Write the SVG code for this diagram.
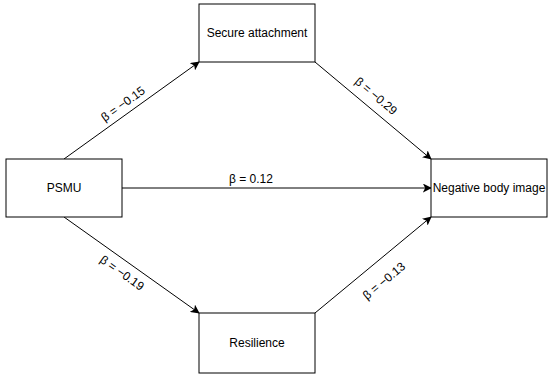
<svg xmlns="http://www.w3.org/2000/svg" width="550" height="379" viewBox="0 0 550 379">
  <defs>
    <marker id="arr" viewBox="0 0 10 10" refX="9" refY="5" markerWidth="9" markerHeight="9" markerUnits="userSpaceOnUse" orient="auto">
      <path d="M0,0 L10,5 L0,10 L2.5,5 Z" fill="#000"/>
    </marker>
    <style>
      .box { fill: #fff; stroke: #000; stroke-width: 1; }
      .lbl { font-family: "Liberation Sans", Arial, sans-serif; font-size: 12px; fill: #000; text-anchor: middle; }
      .edge { stroke: #000; stroke-width: 1; fill: none; marker-end: url(#arr); }
    </style>
  </defs>
  <rect width="550" height="379" fill="#fff"/>
  <g id="connectors">
    <line class="edge" x1="64" y1="159" x2="199" y2="62"/>
    <line class="edge" x1="315" y1="62" x2="431" y2="159"/>
    <line class="edge" x1="122" y1="188" x2="431" y2="188"/>
    <line class="edge" x1="64" y1="217" x2="199" y2="313"/>
    <line class="edge" x1="315" y1="313" x2="431" y2="217"/>
    <text class="lbl" transform="translate(123,104) rotate(-35.7)" y="4">β = −0.15</text>
    <text class="lbl" transform="translate(376,96) rotate(39.9)" y="4">β = −0.29</text>
    <text class="lbl" x="251" y="183">β = 0.12</text>
    <text class="lbl" transform="translate(122,273) rotate(35.4)" y="4">β = −0.19</text>
    <text class="lbl" transform="translate(384,281) rotate(-39.6)" y="4">β = −0.13</text>
  </g>
  <g id="secure">
    <rect class="box" x="199" y="4" width="116" height="58"/>
    <text class="lbl" x="257" y="37">Secure attachment</text>
  </g>
  <g id="psmu">
    <rect class="box" x="6" y="159" width="116" height="58"/>
    <text class="lbl" x="64" y="192">PSMU</text>
  </g>
  <g id="nbi">
    <rect class="box" x="431" y="159" width="116" height="58"/>
    <text class="lbl" x="489" y="192">Negative body image</text>
  </g>
  <g id="resilience">
    <rect class="box" x="199" y="313" width="116" height="60"/>
    <text class="lbl" x="257" y="347">Resilience</text>
  </g>
</svg>
